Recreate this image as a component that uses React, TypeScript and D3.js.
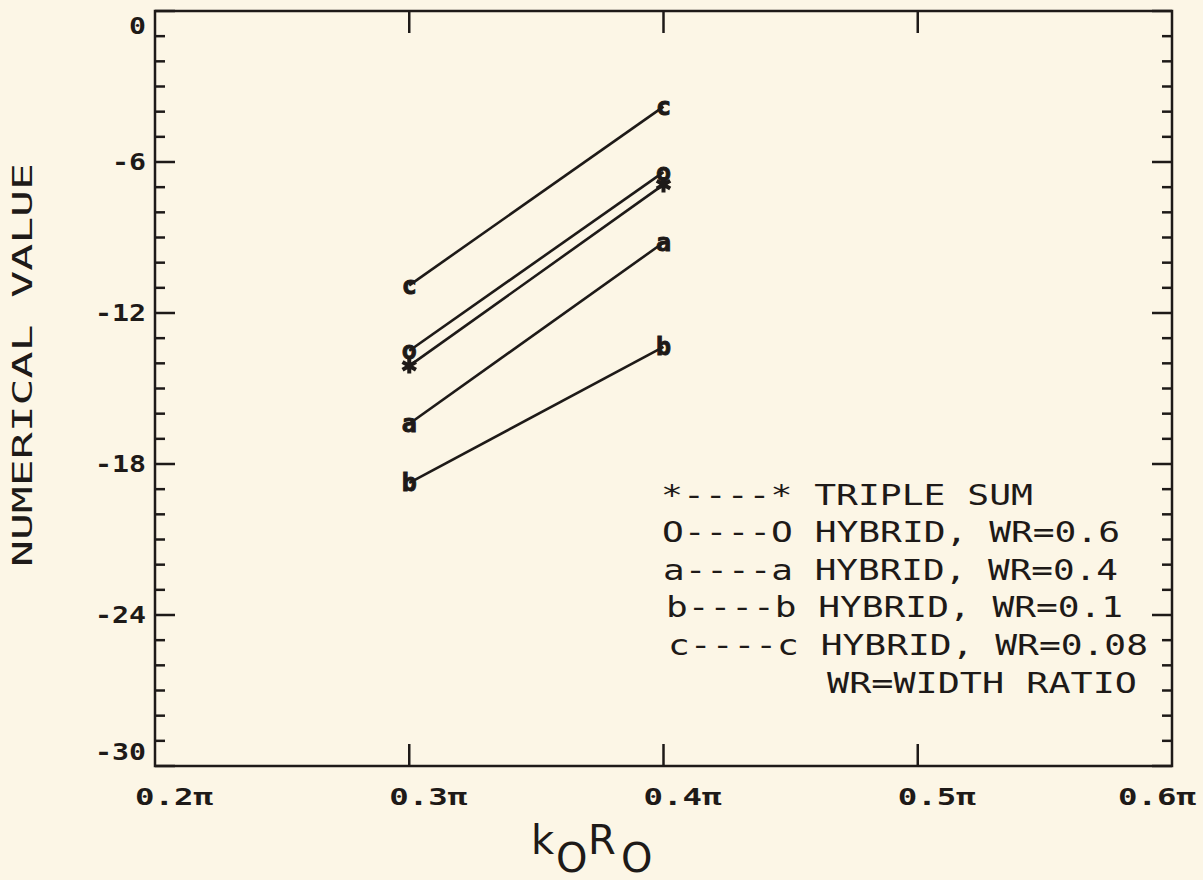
import React from 'react';
import * as d3 from 'd3';

// x in units of pi
const xTicks = [0.2, 0.3, 0.4, 0.5, 0.6];
const xTickLabels = ['0.2π', '0.3π', '0.4π', '0.5π', '0.6π'];
const yTicks = [0, -6, -12, -18, -24, -30];
const yTickLabels = ['0', '-6', '-12', '-18', '-24', '-30'];

const kR = [0.3, 0.4];
const tripleSum = [-14.1, -6.9];
const hybrid06 = [-13.5, -6.4];
const hybrid04 = [-16.4, -9.2];
const hybrid01 = [-18.75, -13.35];
const hybrid008 = [-10.9, -3.8];

const seriesMarks = ['*', 'o', 'a', 'b', 'c'];
const seriesValues = [tripleSum, hybrid06, hybrid04, hybrid01, hybrid008];

const legendLines = [
  '*----* TRIPLE SUM',
  'O----O HYBRID, WR=0.6',
  'a----a HYBRID, WR=0.4',
  'b----b HYBRID, WR=0.1',
  'c----c HYBRID, WR=0.08',
];
const legendNote = 'WR=WIDTH RATIO';

const W = 1203;
const H = 880;
const left = 155;
const right = 1172;
const top = 11;
const bottom = 766;
const ink = '#1e1a18';
const bg = '#fcf6e6';
const font = "'DejaVu Sans Mono', monospace";

// legend layout (start x, width) per row
const legendX = [661, 662, 663, 666, 668];
const legendLen = [372, 458, 455, 457, 480];

export default function App() {
  const x = d3.scaleLinear().domain([0.2, 0.6]).range([left, right]);
  const y = d3.scaleLinear().domain([-30, 0]).range([bottom, top]);
  const line = d3
    .line<number>()
    .x((_, i) => x(kR[i]))
    .y((d) => y(d));
  const minor = d3.range(-30, 1, 1);
  const star = d3.symbol(d3.symbolAsterisk, 170)();

  return (
    <svg width={W} height={H} style={{ position: 'absolute', left: 0, top: 0, background: bg }}>
      <rect x={0} y={0} width={W} height={H} fill={bg} />
      <rect x={left} y={top} width={right - left} height={bottom - top} fill="none" stroke={ink} strokeWidth={2.5} />

      {/* y ticks, both sides */}
      {minor.map((v) => {
        const len = v % 6 === 0 ? 20 : 10;
        return (
          <g key={v} stroke={ink} strokeWidth={2.5}>
            <line x1={left} x2={left + len} y1={y(v)} y2={y(v)} />
            <line x1={right} x2={right - len} y1={y(v)} y2={y(v)} />
          </g>
        );
      })}
      {/* x ticks, bottom and top */}
      {xTicks.slice(1, -1).map((v) => (
        <g key={v} stroke={ink} strokeWidth={2.5}>
          <line x1={x(v)} x2={x(v)} y1={bottom} y2={bottom - 22} />
          <line x1={x(v)} x2={x(v)} y1={top} y2={top + 22} />
        </g>
      ))}

      {yTicks.map((v, i) => {
        let yy = y(v);
        if (i === 0) yy += 15;
        if (i === yTicks.length - 1) yy -= 14;
        const label = yTickLabels[i];
        return (
          <text key={v} x={left - 9} y={yy} textAnchor="end" dominantBaseline="central" fontFamily={font} fontSize={23} fontWeight="600" textLength={label.length * 17} lengthAdjust="spacingAndGlyphs" fill={ink}>
            {label}
          </text>
        );
      })}
      {xTicks.map((v, i) => (
        <text key={v} x={i === xTicks.length - 1 ? x(v) - 54 : x(v) - 20} y={797} dominantBaseline="central" fontFamily={font} fontSize={23} fontWeight="600" textLength={78} lengthAdjust="spacingAndGlyphs" fill={ink}>
          {xTickLabels[i]}
        </text>
      ))}

      {seriesValues.map((vals, i) => (
        <g key={i}>
          <path d={line(vals) ?? ''} fill="none" stroke={ink} strokeWidth={2.6} />
          {vals.map((v, j) =>
            seriesMarks[i] === '*' ? (
              <path key={j} d={star ?? ''} transform={`translate(${x(kR[j])},${y(v)})`} fill="none" stroke={ink} strokeWidth={4} />
            ) : (
              <text key={j} x={x(kR[j])} y={y(v)} textAnchor="middle" dominantBaseline="central" fontFamily={font} fontWeight="bold" fontSize={25} stroke={ink} strokeWidth={1} fill={ink}>
                {seriesMarks[i]}
              </text>
            )
          )}
        </g>
      ))}

      {legendLines.map((t, i) => (
        <text key={t} x={legendX[i]} y={495 + i * 37.6} dominantBaseline="central" fontFamily={font} fontSize={28} textLength={legendLen[i]} lengthAdjust="spacingAndGlyphs" fill={ink} xmlSpace="preserve">
          {t}
        </text>
      ))}
      <text x={827} y={683} dominantBaseline="central" fontFamily={font} fontSize={28} textLength={310} lengthAdjust="spacingAndGlyphs" fill={ink}>
        {legendNote}
      </text>

      <text transform={`translate(22, 365) rotate(-90)`} textAnchor="middle" dominantBaseline="central" fontFamily={font} fontSize={27} textLength={404} lengthAdjust="spacingAndGlyphs" fill={ink}>
        NUMERICAL VALUE
      </text>

      <text y={854} fontFamily="'DejaVu Sans', sans-serif" fontSize={40} fill={ink}>
        <tspan x={531}>k</tspan>
        <tspan x={556} dy={18}>O</tspan>
        <tspan x={588} dy={-18}>R</tspan>
        <tspan x={621} dy={18}>O</tspan>
      </text>
    </svg>
  );
}
